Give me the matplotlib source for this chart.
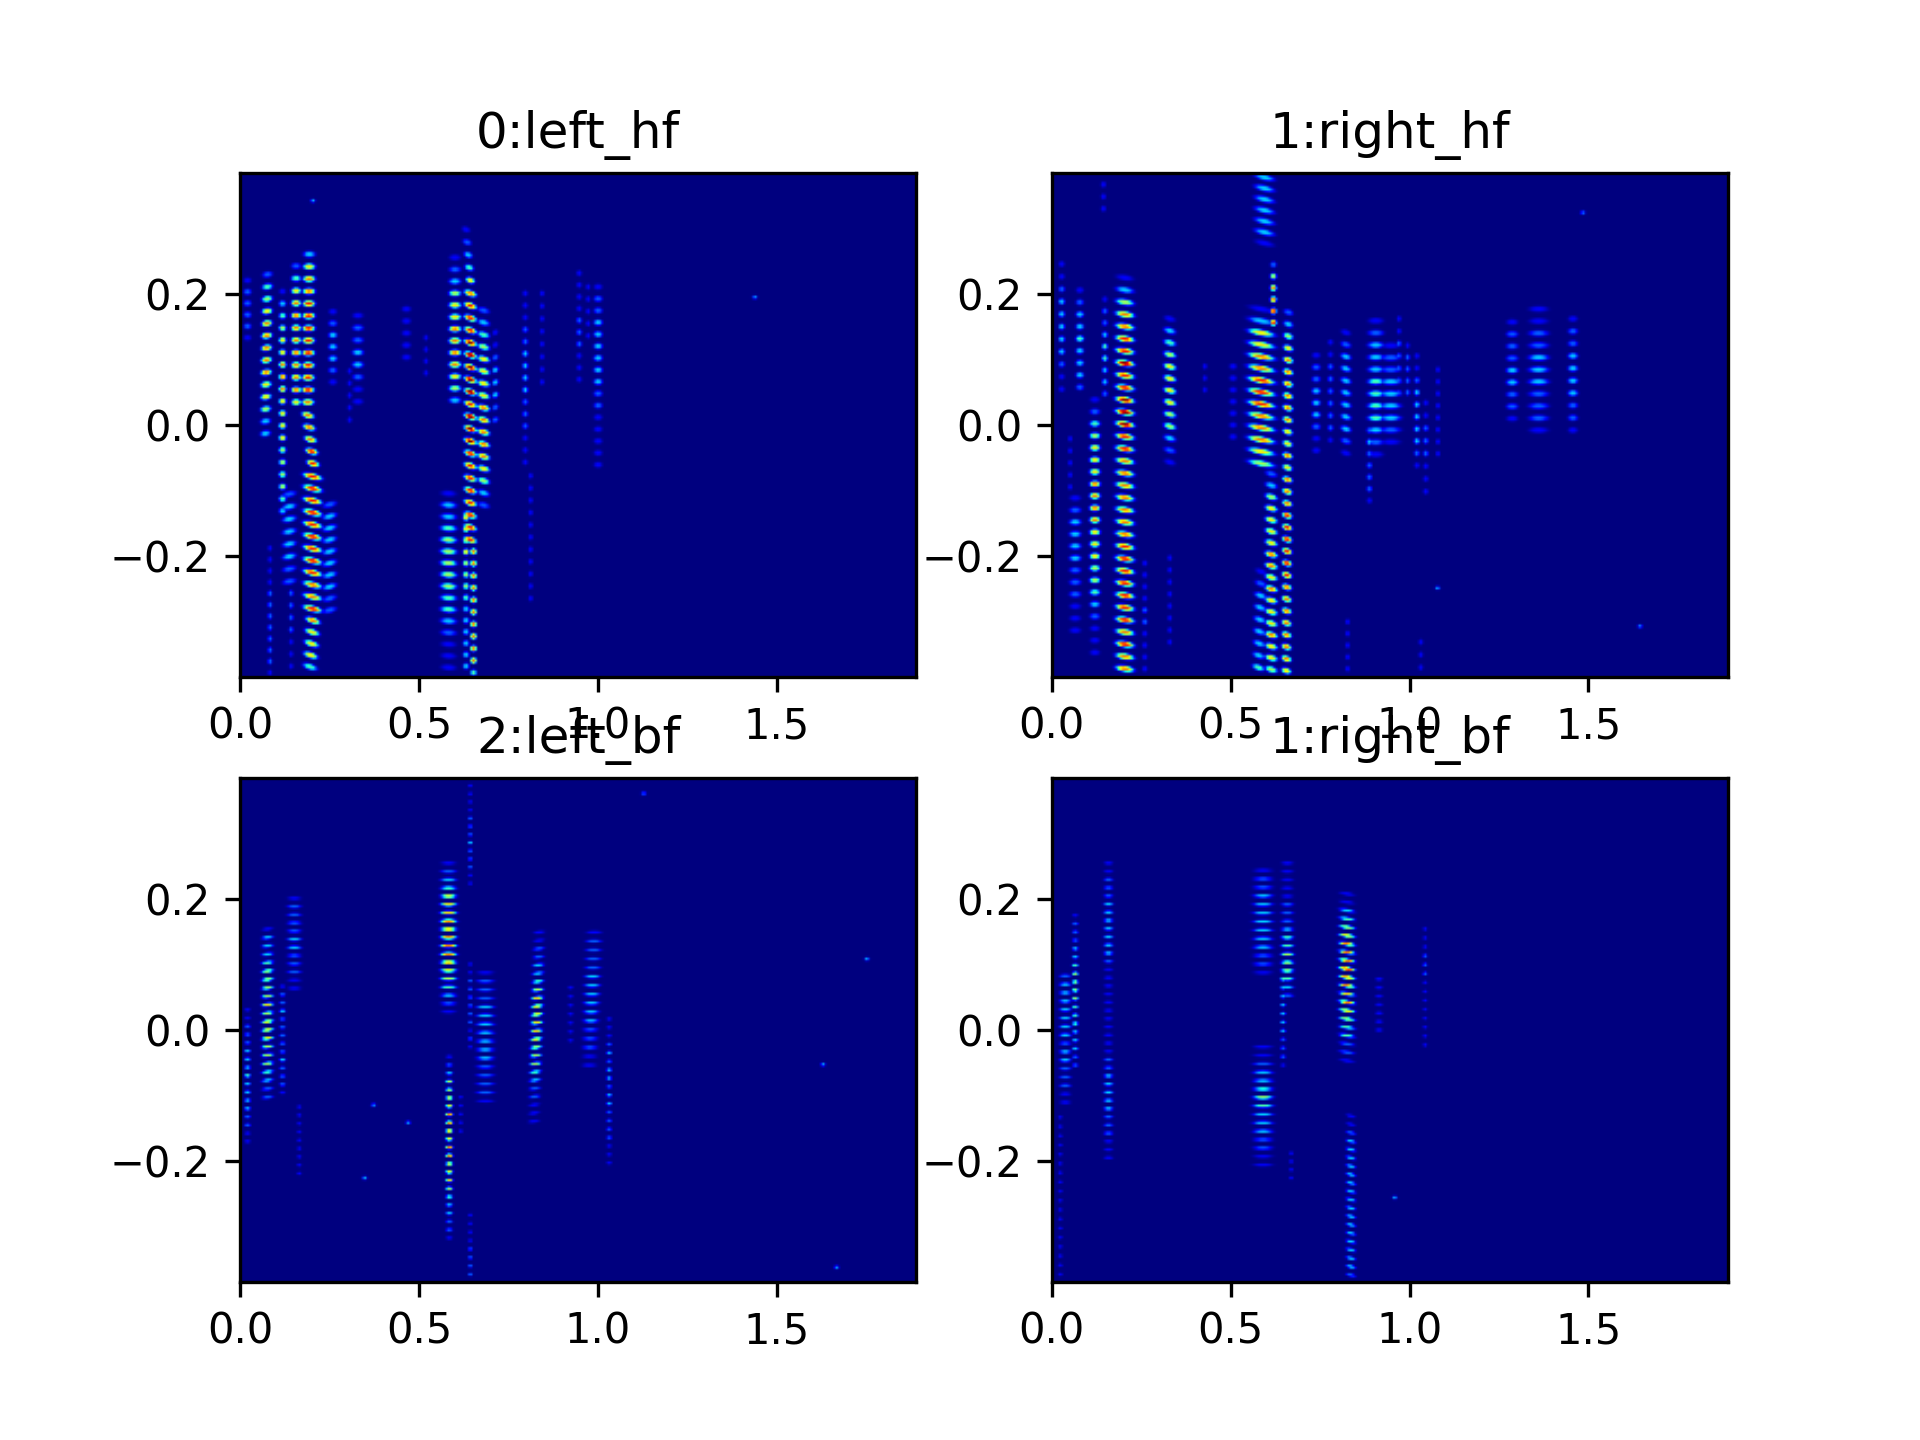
import numpy as np
import matplotlib
matplotlib.use("Agg")
import matplotlib.pyplot as plt

# Each ridge: time at top, time at bottom, freq at top, freq at bottom,
# bandwidth in time, tilt of a partial, then the level (0-9) of each partial from top to bottom.
titles = ["0:left_hf", "1:right_hf", "2:left_bf", "1:right_bf"]
x_max = 1.89
y_max = 0.385

left_hf = [
    (.018, .018, .222, .134, .020, 0, "122221"),
    (.074, .068, .231, -.013, .026, .06, "24567777766533"),
    (.116, .116, .205, -.132, .018, 0, "1345667776666555543"),
    (.154, .154, .244, .035, .024, 0, "246777777776"),
    (.191, .187, .262, .035, .030, 0, "3677888888887"),
    (.187, .201, .015, -.059, .030, -.12, "77788"),
    (.200, .200, -.079, -.282, .045, -.12, "888888888778"),
    (.201, .193, -.300, -.371, .035, -.15, "76664"),
    (.135, .135, -.106, -.240, .035, .09, "23333322"),
    (.248, .248, -.122, -.284, .035, .12, "2333333322"),
    (.140, .140, -.258, -.370, .012, 0, "2222111"),
    (.081, .081, -.189, -.380, .012, 0, "111122222221"),
    (.257, .257, .174, .066, .022, 0, "1233321"),
    (.327, .327, .168, .036, .028, 0, "12233211"),
    (.304, .304, .083, .008, .012, 0, "11111"),
    (.463, .463, .178, .104, .024, 0, "11111"),
    (.518, .518, .134, .080, .012, 0, "1111"),
    (.630, .642, .300, .222, .022, -.12, "12346"),
    (.642, .642, .202, -.176, .030, -.15, "788899999899988888888"),
    (.651, .651, -.194, -.380, .016, 0, "77777777774"),
    (.599, .599, .257, .038, .030, 0, "1235667777653"),
    (.679, .679, .176, -.123, .030, -.12, "23456666777776532"),
    (.712, .712, .142, .008, .016, .12, "11233322"),
    (.630, .630, -.142, -.370, .016, 0, "66565554333333"),
    (.581, .581, -.105, -.372, .040, -.03, "1334555554432111"),
    (.796, .796, .202, -.057, .014, 0, "111223333222111"),
    (.811, .811, -.078, -.266, .012, 0, "11111111111"),
    (.843, .843, .202, .066, .012, 0, "11111111"),
    (.947, .947, .233, .070, .014, 0, "1111222111"),
    (1.00, 1.00, .212, -.061, .022, 0, "1223333332211111"),
    (.972, .972, .212, .137, .012, 0, "11111"),
]
left_hf_specks = [(.201, .344), (1.439, .196)]

right_hf = [
    (.024, .024, .247, .055, .016, 0, "11233333211"),
    (.075, .075, .207, .058, .020, 0, "123343332"),
    (.145, .145, .193, .048, .014, 0, "122344332"),
    (.201, .201, .226, -.374, .045, -.08, "135778898899988777777788888887877"),
    (.327, .327, .163, -.057, .030, -.12, "1345666655321"),
    (.117, .117, .039, -.349, .026, 0, "1245666777766655432111"),
    (.062, .062, -.112, -.315, .030, 0, "123333222111"),
    (.048, .048, -.021, -.095, .012, 0, "11111"),
    (.257, .257, -.212, -.374, .014, 0, "1111221111"),
    (.327, .327, -.204, -.333, .012, 0, "11111111"),
    (.141, .141, .369, .332, .014, 0, "111"),
    (.592, .592, .380, .279, .050, -.12, "3333331"),
    (.617, .617, .246, .157, .016, 0, "257788"),
    (.583, .583, .178, -.059, .065, -.1, "13667788877765"),
    (.659, .653, .173, -.377, .024, -.12, "2356777777667677788888877777776"),
    (.611, .611, -.075, -.375, .030, -.12, "235666677676667665"),
    (.583, .575, -.225, -.372, .030, -.15, "123333334"),
    (.504, .504, .090, -.018, .020, 0, "1111111"),
    (.425, .425, .090, .054, .012, 0, "111"),
    (.737, .737, .107, -.039, .022, 0, "122333211"),
    (.777, .777, .127, -.023, .014, 0, "112222221"),
    (.820, .820, .142, -.043, .026, -.12, "12333333321"),
    (.904, .904, .160, -.045, .040, 0, "123334444321"),
    (.886, .886, -.008, -.116, .014, 0, "2322221"),
    (.946, .946, .122, -.026, .050, 0, "122333321"),
    (.969, .969, .163, .049, .012, 0, "1122222"),
    (.993, .993, .122, .050, .012, 0, "12222"),
    (1.019, 1.019, .106, -.062, .014, 0, "1123333321"),
    (1.044, 1.044, .034, -.102, .014, 0, "11222111"),
    (1.078, 1.078, .085, -.044, .012, 0, "11111111"),
    (1.286, 1.286, .158, .010, .030, 0, "122233221"),
    (1.360, 1.360, .178, -.008, .050, 0, "11223332221"),
    (1.456, 1.456, .163, -.008, .025, 0, "1223333221"),
    (.825, .825, -.302, -.374, .012, 0, "11111"),
    (1.030, 1.030, -.333, -.372, .012, 0, "111"),
]
right_hf_specks = [(1.077, -.250), (1.644, -.309), (1.484, .326)]

left_bf = [
    (.018, .018, .031, -.171, .016, 0, "11222333433332211"),
    (.074, .074, .155, -.103, .030, .06, "133345555656665554322"),
    (.116, .116, .067, -.096, .016, 0, "12232222232221"),
    (.149, .149, .202, .064, .036, 0, "122223322211"),
    (.163, .163, -.118, -.220, .012, 0, "111111111"),
    (.581, .581, .256, .028, .040, 0, "1234666777777654321"),
    (.642, .642, .375, .225, .012, 0, "1111222322211"),
    (.583, .583, -.041, -.319, .018, 0, "12355667776776665433221"),
    (.615, .615, -.103, -.155, .012, 0, "11111"),
    (.642, .642, -.284, -.375, .012, 0, "11112222"),
    (.642, .642, .101, -.026, .012, 0, "11222222121"),
    (.684, .684, .088, -.109, .045, 0, "1222333333322221"),
    (.835, .820, .150, -.140, .030, .06, "112233456666665554322111"),
    (.923, .923, .065, -.016, .014, 0, "1111111"),
    (.989, .975, .150, -.054, .040, 0, "1222233333322211"),
    (1.031, 1.031, .017, -.204, .014, 0, "111232332332222111"),
]
left_bf_specks = [(.371, -.115), (.468, -.142), (.346, -.227), (1.128, .363),
                  (1.630, -.053), (1.753, .109), (1.668, -.364)]

right_bf = [
    (.062, .062, .176, -.054, .016, 0, "1222334555544433322"),
    (.034, .034, .083, -.111, .030, 0, "2333333323322211"),
    (.020, .020, -.134, -.375, .012, 0, "111111111111111111"),
    (.155, .155, .256, -.196, .024, 0, "1122233333332111111111112233333222111"),
    (.588, .588, .245, .088, .050, 0, "1223333333221"),
    (.656, .656, .256, .053, .032, 0, "11111222344555432"),
    (.644, .644, .078, -.054, .014, 0, "43333332221"),
    (.588, .588, -.026, -.207, .050, 0, "112334543332211"),
    (.823, .823, .209, -.047, .040, -.08, "113456777877676544221"),
    (.834, .834, -.132, -.376, .025, -.12, "11233333333333333332"),
    (1.042, 1.042, .155, -.023, .012, 0, "11122211111111"),
    (.913, .913, .078, .000, .020, 0, "1111111"),
    (.667, .667, -.189, -.227, .012, 0, "1111"),
]
right_bf_specks = [(.957, -.257)]

panel_ridges = [left_hf, right_hf, left_bf, right_bf]
panel_specks = [left_hf_specks, right_hf_specks, left_bf_specks, right_bf_specks]
partial_height = [.0085, .0085, .0052, .0052]


def spectrogram(ridges, specks, height):
    t = np.linspace(0, x_max, 300)
    f = np.linspace(-y_max, y_max, 230)
    T, F = np.meshgrid(t, f)
    z = np.zeros_like(T)
    fwhm = 2.355
    for x0, x1, y0, y1, width, tilt, levels in ridges:
        n = len(levels)
        xs = np.linspace(x0, x1, n)
        ys = np.linspace(y0, y1, n)
        for x, y, lev in zip(xs, ys, levels):
            dx = (T - x) / (width / fwhm)
            dy = (F - y - tilt * (T - x)) / (height / fwhm)
            z = np.maximum(z, int(lev) / 9 * np.exp(-0.5 * (dx ** 2 + dy ** 2) ** 1.6))
    for x, y in specks:
        dx = (T - x) / 0.004
        dy = (F - y) / 0.0016
        z = np.maximum(z, 0.35 * np.exp(-0.5 * (dx ** 2 + dy ** 2)))
    return z


fig, axes = plt.subplots(2, 2, figsize=(6.4, 4.8), dpi=300)
for ax, title, ridges, specks, h in zip(axes.ravel(), titles, panel_ridges, panel_specks, partial_height):
    ax.imshow(spectrogram(ridges, specks, h), origin="lower", aspect="auto", cmap="jet",
              vmin=0, vmax=1, interpolation="bilinear",
              extent=[0, x_max, -y_max, y_max])
    ax.set_title(title)
fig.savefig("out.png", dpi=300)
